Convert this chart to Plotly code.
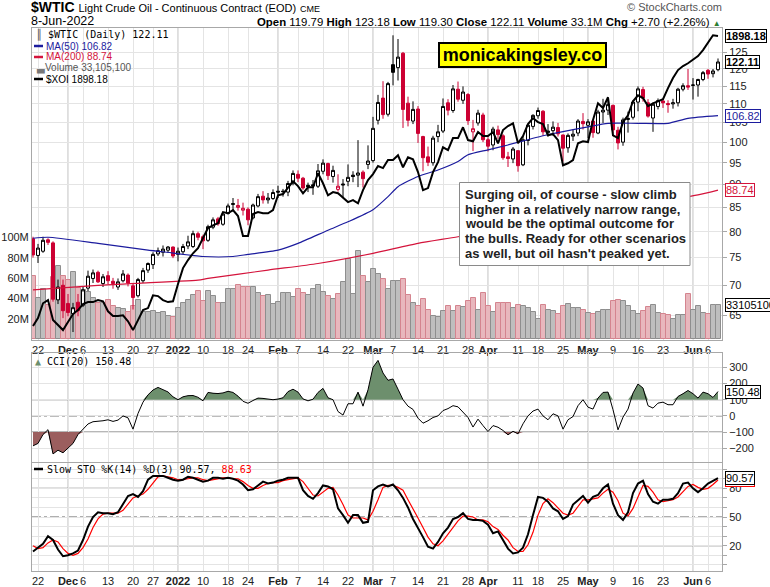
import numpy as np
import pandas as pd
import plotly.graph_objects as go

# ---------------- data ----------------
HOLIDAYS = ["2021-11-25", "2021-12-24", "2022-01-17", "2022-02-21", "2022-04-15", "2022-05-30"]
DATES = [d.strftime("%Y-%m-%d") for d in pd.bdate_range("2021-11-19", "2022-06-08")
         if d.strftime("%Y-%m-%d") not in HOLIDAYS]
PREV_CLOSE = 79.01

OPEN = [78.6, 75.4, 76.2, 78.4, 77.8, 67.5, 70.0, 66.9, 65.2, 67.1,
        66.6, 69.5, 71.2, 72.3, 70.3, 71.7, 70.7, 69.7, 70.8, 71.8,
        69.9, 68.2, 70.8, 72.7, 73.7, 75.7, 76.0, 76.4, 77.0, 75.6,
        76.1, 77.2, 77.1, 79.6, 79.0, 78.3, 80.9, 82.6, 81.5, 83.7,
        85.6, 85.0, 84.4, 84.6, 82.8, 85.3, 87.4, 86.6, 86.9, 88.5,
        88.5, 88.3, 90.3, 92.3, 91.4, 89.8, 89.9, 89.6, 93.0, 94.8,
        91.8, 88.9, 90.1, 90.7, 92.1, 92.1, 92.8, 94.6, 95.5, 105.6,
        111.6, 107.2, 121.3, 120.4, 124.8, 110.2, 105.4, 108.6, 101.4, 96.4,
        95.0, 101.4, 102.8, 110.3, 108.2, 114.1, 111.0, 112.6, 102.6, 104.9,
        107.0, 100.6, 99.3, 103.1, 101.6, 96.4, 95.9, 97.9, 94.5, 100.4,
        104.0, 106.8, 108.0, 102.4, 102.9, 103.7, 101.8, 98.6, 101.5, 102.3,
        105.3, 104.3, 105.4, 102.3, 107.8, 108.3, 109.6, 103.0, 100.0, 105.8,
        106.4, 110.5, 114.0, 110.3, 106.2, 109.3, 110.8, 110.1, 110.0, 110.3,
        114.1, 115.1, 115.2, 115.3, 116.9, 119.6, 118.6, 119.79]
HIGH = [79.0, 77.6, 79.0, 78.7, 78.1, 71.0, 71.0, 68.5, 67.0, 68.5,
        69.8, 72.6, 72.8, 72.6, 72.0, 72.5, 71.3, 71.2, 72.7, 72.1,
        70.3, 71.3, 73.1, 74.1, 76.0, 76.9, 77.3, 77.2, 77.1, 76.9,
        77.6, 79.2, 80.2, 80.0, 79.4, 81.4, 82.9, 83.0, 84.0, 85.8,
        87.0, 86.8, 86.0, 85.0, 85.8, 87.9, 88.5, 88.1, 88.9, 89.7,
        89.0, 90.8, 93.2, 93.2, 91.7, 90.4, 91.0, 94.7, 95.8, 95.0,
        94.3, 92.3, 91.2, 94.6, 93.0, 100.5, 93.2, 99.2, 106.5, 112.5,
        116.4, 116.2, 130.5, 129.3, 125.2, 112.0, 110.7, 109.4, 101.6, 98.9,
        101.6, 104.4, 111.5, 111.3, 115.3, 116.3, 114.9, 113.0, 105.7, 108.4,
        107.6, 101.2, 103.9, 104.2, 102.0, 97.6, 98.8, 98.0, 101.5, 104.6,
        107.2, 109.0, 108.3, 104.6, 105.3, 104.9, 101.9, 102.2, 103.2, 105.9,
        107.5, 105.9, 105.5, 108.4, 111.4, 111.0, 109.8, 103.9, 106.3, 107.9,
        111.0, 114.9, 114.8, 111.3, 110.4, 111.5, 111.4, 111.0, 111.4, 114.5,
        115.8, 120.0, 117.3, 117.1, 119.4, 120.0, 120.0, 123.18]
LOW = [75.0, 74.0, 75.9, 77.4, 67.2, 66.8, 64.5, 64.8, 62.3, 64.8,
       66.3, 69.0, 70.4, 70.4, 69.7, 70.2, 69.4, 69.2, 70.5, 69.8,
       65.9, 67.9, 70.4, 72.2, 72.9, 75.3, 75.2, 75.9, 74.9, 74.3,
       75.6, 76.6, 76.8, 78.3, 76.6, 78.0, 80.5, 81.2, 81.2, 83.5,
       84.4, 84.3, 83.3, 81.3, 82.5, 85.0, 85.8, 85.8, 86.6, 87.0,
       87.3, 87.4, 89.8, 90.5, 88.8, 88.3, 87.7, 89.2, 92.3, 91.0,
       90.4, 88.4, 87.2, 89.6, 90.5, 89.4, 89.3, 93.5, 95.0, 104.5,
       106.0, 106.6, 115.2, 116.6, 103.6, 104.0, 104.6, 99.8, 93.0, 94.2,
       94.3, 100.0, 102.3, 106.9, 107.6, 110.6, 110.0, 104.4, 97.8, 104.2,
       100.0, 97.7, 98.0, 100.8, 95.7, 94.0, 94.9, 92.9, 94.2, 99.2,
       103.2, 106.0, 101.6, 101.4, 101.6, 101.4, 95.3, 97.4, 100.3, 101.5,
       103.2, 101.0, 101.1, 102.0, 104.9, 107.0, 102.2, 98.2, 99.1, 102.4,
       105.8, 108.0, 110.6, 106.3, 102.6, 108.5, 108.9, 107.6, 108.7, 109.3,
       113.5, 113.9, 111.2, 112.0, 116.4, 117.1, 117.5, 119.30]
CLOSE = [75.5, 76.8, 78.3, 77.9, 67.6, 69.7, 65.7, 65.4, 66.2, 65.7,
         69.2, 71.6, 72.2, 70.6, 71.5, 70.8, 70.3, 70.6, 72.0, 70.4,
         67.9, 71.0, 72.6, 73.9, 75.6, 76.3, 76.6, 77.0, 75.3, 76.2,
         77.1, 78.0, 79.6, 78.9, 78.2, 81.0, 82.4, 81.6, 83.6, 85.3,
         85.8, 85.4, 84.8, 82.4, 85.5, 87.3, 86.6, 87.0, 88.2, 88.3,
         88.4, 90.2, 92.5, 91.4, 89.2, 89.5, 89.7, 93.1, 94.9, 92.0,
         93.2, 89.6, 89.9, 91.6, 91.8, 92.6, 91.3, 95.4, 103.5, 110.4,
         107.1, 115.7, 119.0, 123.6, 108.5, 105.6, 108.5, 102.2, 96.2, 95.1,
         101.0, 102.6, 109.3, 108.3, 114.2, 111.3, 113.3, 105.5, 103.4, 107.5,
         100.6, 99.0, 103.3, 101.9, 96.2, 96.0, 98.3, 94.3, 100.6, 104.3,
         106.9, 108.2, 102.6, 102.8, 103.8, 102.1, 98.5, 101.7, 102.0, 105.4,
         104.7, 105.2, 102.4, 107.8, 108.3, 109.8, 103.1, 99.8, 105.7, 106.1,
         110.5, 114.2, 111.6, 106.7, 109.9, 110.9, 110.3, 109.8, 110.3, 114.1,
         115.1, 114.7, 115.3, 116.9, 118.9, 118.5, 119.4, 122.11]
VOLUME_M = [62, 40, 49, 34, 61, 72, 62, 58, 66, 50,
            48, 46, 40, 36, 36, 38, 33, 31, 30, 27,
            33, 38, 27, 27, 28, 26, 27, 23, 22, 31,
            36, 38, 43, 47, 37.6, 47.5, 42.6, 36, 36, 49,
            49.6, 53, 51, 51.5, 51.5, 45, 42.6, 43, 35, 36.7,
            45, 45.5, 41.6, 49, 45.5, 43.5, 49, 53.7, 46, 42.6,
            39.3, 44, 55.7, 78.6, 44, 86.8, 61.6, 55.7, 69, 64,
            59, 49, 57, 57, 59, 43, 36, 33, 39, 29,
            23, 21.5, 28, 33, 28, 33, 32, 37.6, 40, 29,
            45, 33, 26.5, 36, 36, 36, 31, 34, 33, 31,
            27, 20, 34, 29, 28, 24.6, 33, 35, 31, 31,
            29, 26, 25, 27, 29, 29, 37, 38.6, 37, 33,
            28, 25, 28, 32, 34, 26, 25, 24, 19.6, 24,
            23.6, 44, 29, 33, 26, 25, 34, 33.1]
XOI = [1173, 1193, 1230, 1238, 1188, 1175, 1163, 1183, 1203, 1213,
       1228, 1233, 1233, 1238, 1235, 1210, 1198, 1198, 1200, 1185,
       1163, 1188, 1213, 1218, 1250, 1248, 1238, 1233, 1235, 1278,
       1318, 1338, 1355, 1368, 1393, 1418, 1425, 1430, 1458, 1455,
       1463, 1448, 1398, 1398, 1453, 1458, 1455, 1455, 1463, 1500,
       1503, 1518, 1535, 1523, 1505, 1520, 1520, 1555, 1530, 1500,
       1508, 1505, 1495, 1483, 1488, 1480, 1513, 1538, 1553, 1573,
       1568, 1588, 1588, 1600, 1570, 1595, 1590, 1558, 1513, 1518,
       1558, 1583, 1620, 1613, 1643, 1643, 1670, 1638, 1635, 1658,
       1648, 1648, 1658, 1630, 1663, 1673, 1680, 1630, 1648, 1678,
       1693, 1683, 1678, 1650, 1653, 1638, 1575, 1580, 1588, 1630,
       1635, 1633, 1688, 1730, 1718, 1745, 1650, 1643, 1683, 1700,
       1735, 1750, 1743, 1723, 1730, 1735, 1740, 1768, 1793, 1813,
       1823, 1830, 1840, 1848, 1863, 1883, 1900, 1898.18]
CCI = [-185, -170, -115, -85, -235, -212, -228, -200, -170, -115,
       -80, -50, -36, -35, -30, -24, -34, -26, 0, -12,
       -82, 15, 85, 130, 160, 176, 162, 148, 118, 100,
       118, 125, 126, 115, 93, 145, 140, 138, 142, 152,
       145, 122, 90, 78, 95, 110, 108, 103, 100, 104,
       112, 150, 165, 147, 105, 93, 103, 145, 170, 112,
       100, 27, 5, 75, 75, 147, 60, 161, 300, 343,
       265, 220, 228, 165, 100, 60, 40, -14, -45, -30,
       -10, 0, 33, 45, 63, 56, 25, -10, -69, -20,
       -60, -97, -60, -70, -90, -117, -95, -111, -49, 0,
       30, 42, 0, -24, 13, 0, -82, -24, -4, 63,
       100, 54, 42, 110, 145, 147, 38, -86, -8, 42,
       141, 197, 172, 63, 48, 79, 85, 69, 69, 120,
       137, 157, 137, 110, 147, 137, 114, 150.48]
STO_K = [14, 18, 22, 30, 26, 16, 9, 10, 12, 15,
         26, 40, 50, 55, 54, 54, 53, 55, 64, 72,
         74, 71, 77, 89, 93, 93, 93, 91, 89, 88,
         89, 92, 91, 89, 87, 88, 91, 91, 90, 91,
         90, 88, 84, 78, 79, 83, 87, 85, 86, 88,
         89, 91, 91, 91, 78, 72, 69, 75, 83, 82,
         79, 59, 52, 44, 52, 52, 44, 45, 78, 82,
         84, 82, 84, 78, 70, 60, 48, 39, 29, 19,
         17, 24, 33, 39, 48, 50, 54, 48, 47, 47,
         46, 42, 33, 35, 26, 17, 12, 13, 18, 32,
         52, 71, 70, 66, 59, 56, 48, 51, 63, 68,
         72, 65, 71, 73, 80, 84, 64, 52, 47, 55,
         75, 85, 88, 74, 66, 64, 68, 68, 69, 75,
         85, 86, 80, 76, 80, 85, 88, 90.57]
STO_D = [20, 17, 18, 23, 26, 24, 17, 12, 10, 12,
         18, 27, 39, 48, 53, 54, 54, 54, 57, 64,
         70, 72, 74, 79, 86, 92, 93, 92, 91, 89,
         89, 90, 91, 91, 89, 88, 89, 90, 91, 91,
         90, 90, 87, 83, 80, 80, 83, 85, 86, 86,
         88, 89, 90, 91, 87, 80, 73, 72, 76, 80,
         81, 73, 63, 52, 49, 49, 49, 47, 56, 68,
         81, 83, 83, 81, 78, 68, 59, 49, 39, 29,
         22, 20, 25, 32, 40, 46, 51, 51, 50, 47,
         47, 45, 40, 37, 31, 26, 18, 14, 14, 21,
         34, 52, 64, 69, 65, 60, 54, 52, 54, 61,
         68, 68, 69, 70, 75, 79, 76, 67, 54, 51,
         59, 72, 83, 82, 76, 68, 66, 67, 68, 71,
         76, 82, 84, 81, 79, 80, 84, 88.63]

MA50_DATES = ["2021-11-19", "2021-11-24", "2021-12-09", "2021-12-23", "2021-12-29", "2022-01-10",
              "2022-01-19", "2022-01-24", "2022-02-01", "2022-02-07", "2022-02-15", "2022-02-22",
              "2022-03-01", "2022-03-04", "2022-03-08", "2022-03-14", "2022-03-18", "2022-03-24",
              "2022-03-28", "2022-04-01", "2022-04-07", "2022-04-19", "2022-04-22", "2022-05-02",
              "2022-05-06", "2022-05-16", "2022-05-24", "2022-05-31", "2022-06-08"]
MA50 = [78.7, 78.9, 77.7, 76.4, 76.1, 75.2, 75.2, 75.6, 76.4, 77.7, 80.3, 82.0, 84.5, 87.3,
        89.5, 91.8, 93.3, 95.3, 96.9, 98.1, 99.3, 101.6, 102.4, 103.9, 104.8, 104.8, 104.8,
        106.1, 106.82]
MA200_DATES = ["2021-11-19", "2021-12-09", "2022-01-07", "2022-01-11", "2022-01-28", "2022-02-11",
               "2022-03-01", "2022-03-14", "2022-03-24", "2022-04-27", "2022-06-02", "2022-06-08"]
MA200 = [69.2, 70.0, 70.9, 71.2, 72.7, 73.9, 75.8, 77.7, 79.0, 83.2, 87.7, 88.74]

TICK_DATES = ["2021-11-22", "2021-12-01", "2021-12-06", "2021-12-13", "2021-12-20", "2021-12-27",
              "2022-01-03", "2022-01-10", "2022-01-18", "2022-01-24", "2022-02-01", "2022-02-07",
              "2022-02-14", "2022-02-22", "2022-03-01", "2022-03-07", "2022-03-14", "2022-03-21",
              "2022-03-28", "2022-04-01", "2022-04-11", "2022-04-18", "2022-04-25", "2022-05-02",
              "2022-05-09", "2022-05-16", "2022-05-23", "2022-06-01", "2022-06-06"]
TICK_TEXT = ["22", "<b>Dec</b>", "6", "13", "20", "27", "<b>2022</b>", "10", "18", "24", "<b>Feb</b>",
             "7", "14", "22", "<b>Mar</b>", "7", "14", "21", "28", "<b>Apr</b>", "11", "18", "25",
             "<b>May</b>", "9", "16", "23", "<b>Jun</b>", "6"]
MONTH_STARTS = ["2021-12-01", "2022-01-03", "2022-02-01", "2022-03-01", "2022-04-01", "2022-05-02",
                "2022-06-01"]

# ---------------- helpers ----------------
pos = {d: i for i, d in enumerate(DATES)}
X = list(range(len(DATES)))
tickvals = [pos[d] for d in TICK_DATES]

W, H = 770, 587
ML, MR, MT, MB = 32, 48, 28, 16


def px(x):
    return (x - ML) / (W - ML - MR)


def py(y):
    return (H - MB - y) / (H - MT - MB)


FONT = "Liberation Sans, Arial, sans-serif"
MONO = "DejaVu Sans Mono, monospace"
GRID = "#e4e4e4"
MGRID = "#bdbdbd"
FRAME = "#a8a8a8"
RED = "#cc0033"
BLUE = "#1c1c9e"
MARED = "#d4143c"

prev = [PREV_CLOSE] + CLOSE[:-1]
up = [c >= p for c, p in zip(CLOSE, prev)]

fig = go.Figure()

# volume (base axis so it sits behind the price)
fig.add_trace(go.Bar(
    x=X, y=[v * 1e6 for v in VOLUME_M], xaxis="x", yaxis="y",
    marker=dict(color=["#bebebe" if u else "#e8b7bd" for u in up],
                line=dict(color=["#8e8e8e" if u else "#d4848f" for u in up], width=1)),
    hoverinfo="skip"))

# candles: black set and red set
for flag, col in [(True, "black"), (False, RED)]:
    idx = [i for i in X if up[i] == flag]
    fig.add_trace(go.Candlestick(
        x=idx, open=[OPEN[i] for i in idx], high=[HIGH[i] for i in idx],
        low=[LOW[i] for i in idx], close=[CLOSE[i] for i in idx],
        xaxis="x", yaxis="y2", whiskerwidth=0,
        increasing=dict(line=dict(color=col, width=1), fillcolor="white"),
        decreasing=dict(line=dict(color=col, width=1), fillcolor=col),
        hoverinfo="skip"))

fig.add_trace(go.Scatter(x=[pos[d] for d in MA50_DATES], y=MA50, mode="lines", xaxis="x", yaxis="y2",
                         line=dict(color=BLUE, width=1.2, shape="spline", smoothing=0.6)))
fig.add_trace(go.Scatter(x=[pos[d] for d in MA200_DATES], y=MA200, mode="lines", xaxis="x", yaxis="y2",
                         line=dict(color=MARED, width=1.2, shape="spline", smoothing=0.6)))
fig.add_trace(go.Scatter(x=X, y=XOI, mode="lines", xaxis="x", yaxis="y3",
                         line=dict(color="black", width=2)))

# CCI
fig.add_trace(go.Scatter(x=X, y=[100] * len(X), mode="lines", line=dict(width=0),
                         xaxis="x2", yaxis="y4"))
fig.add_trace(go.Scatter(x=X, y=[max(v, 100) for v in CCI], mode="lines", line=dict(width=0),
                         fill="tonexty", fillcolor="#6d8f6d", xaxis="x2", yaxis="y4"))
fig.add_trace(go.Scatter(x=X, y=[-100] * len(X), mode="lines", line=dict(width=0),
                         xaxis="x2", yaxis="y4"))
fig.add_trace(go.Scatter(x=X, y=[min(v, -100) for v in CCI], mode="lines", line=dict(width=0),
                         fill="tonexty", fillcolor="#9b5e5e", xaxis="x2", yaxis="y4"))
fig.add_trace(go.Scatter(x=X, y=CCI, mode="lines", line=dict(color="black", width=1),
                         xaxis="x2", yaxis="y4"))

# Slow stochastic
fig.add_trace(go.Scatter(x=X, y=STO_D, mode="lines", line=dict(color="#ff0000", width=1.2),
                         xaxis="x3", yaxis="y5"))
fig.add_trace(go.Scatter(x=X, y=STO_K, mode="lines", line=dict(color="black", width=2),
                         xaxis="x3", yaxis="y5"))

# ---------------- axes ----------------
xcommon = dict(range=[-0.2, 137.8], tickmode="array", tickvals=tickvals, ticktext=TICK_TEXT,
               tickangle=0, automargin=False,
               showgrid=True, gridcolor=GRID, gridwidth=1, showline=True, mirror=True,
               linecolor=FRAME, ticks="", zeroline=False,
               tickfont=dict(family=FONT, size=11, color="#222"))
ycommon = dict(automargin=False, zeroline=False)
fig.update_layout(
    xaxis=dict(**xcommon, anchor="y", domain=[0, 1], rangeslider=dict(visible=False)),
    xaxis2=dict(**xcommon, anchor="y4", domain=[0, 1], matches="x", showticklabels=False),
    xaxis3=dict(**xcommon, anchor="y5", domain=[0, 1], matches="x"),
    yaxis=dict(**ycommon, domain=[0.4263, 1], range=[-0.4e6, 306e6], side="left",
               tickvals=[20e6, 40e6, 60e6, 80e6, 100e6], ticktext=["20M", "40M", "60M", "80M", "100M"],
               showgrid=False, showline=True, mirror=True, linecolor=FRAME,
               tickfont=dict(family=FONT, size=11, color="#222"), ticks=""),
    yaxis2=dict(**ycommon, overlaying="y", side="right", type="log",
                range=[np.log10(61.15), np.log10(132.9)],
                tickvals=list(range(65, 130, 5)), showgrid=True, gridcolor=GRID,
                showline=False, ticks="outside", ticklen=4, tickcolor=FRAME,
                tickfont=dict(family=FONT, size=11, color="#222")),
    yaxis3=dict(**ycommon, overlaying="y", range=[1139.4, 1918.2], visible=False),
    yaxis4=dict(**ycommon, domain=[0.2013, 0.4009], anchor="x2", side="right", range=[-283, 386.7],
                tickvals=[-200, -100, 0, 100, 200, 300], showgrid=True, gridcolor=GRID,
                showline=True, mirror=True, linecolor=FRAME,
                ticks="outside", ticklen=4, tickcolor=FRAME,
                tickfont=dict(family=FONT, size=11, color="#222")),
    yaxis5=dict(**ycommon, domain=[0, 0.1995], anchor="x3", side="right", range=[-6.4, 106.8],
                tickvals=list(range(0, 110, 10)),
                ticktext=["" if v not in (20, 50, 80) else str(v) for v in range(0, 110, 10)],
                showgrid=True, gridcolor=GRID, showline=True, mirror=True,
                linecolor=FRAME, ticks="outside", ticklen=4, tickcolor=FRAME,
                tickfont=dict(family=FONT, size=11, color="#222")),
)

# ---------------- shapes ----------------
shapes = []
for d in MONTH_STARTS:
    for xr, yr in [("x", "y domain"), ("x2", "y4 domain"), ("x3", "y5 domain")]:
        shapes.append(dict(type="line", xref=xr, yref=yr, x0=pos[d], x1=pos[d], y0=0, y1=1,
                           line=dict(color=MGRID, width=1), layer="below"))
for yv, dash in [(100, "solid"), (0, "dashdot"), (-100, "solid")]:
    shapes.append(dict(type="line", xref="paper", yref="y4", x0=0, x1=1, y0=yv, y1=yv,
                       line=dict(color="#555", width=1, dash=dash), layer="below"))
for yv, dash in [(80, "solid"), (50, "dashdot"), (20, "solid")]:
    shapes.append(dict(type="line", xref="paper", yref="y5", x0=0, x1=1, y0=yv, y1=yv,
                       line=dict(color="#555", width=1, dash=dash), layer="below"))
# legend swatches
for yy, col in [(46, BLUE), (57, MARED), (79, "black"), (469, "black")]:
    shapes.append(dict(type="line", xref="paper", yref="paper", x0=px(34), x1=px(43),
                       y0=py(yy), y1=py(yy), line=dict(color=col, width=2.5)))
# comment box
shapes.append(dict(type="rect", xref="paper", yref="paper", x0=px(459.5), x1=px(690),
                   y0=py(182.5), y1=py(265.5), fillcolor="white", line=dict(color="#8a8a8a", width=1),
                   layer="above"))
fig.update_layout(shapes=shapes)

# ---------------- annotations ----------------
ann = []


def text(x, y, s, size=11, family=FONT, color="black", anchor="left"):
    ann.append(dict(xref="paper", yref="paper", x=px(x), y=py(y), text=s, showarrow=False,
                    xanchor=anchor, yanchor="middle", font=dict(family=family, size=size, color=color)))


text(29, 7, "<b>$WTIC</b> <span style='font-size:11px'>Light Crude Oil - Continuous Contract (EOD)</span>"
     " <span style='font-size:9px'>CME</span>", size=14)
text(29, 21, "8-Jun-2022", size=12.5)
text(724, 7, "\u00a9 StockCharts.com", size=11, color="#555", anchor="right")
text(723, 22, "<b>Open</b> 119.79 <b>High</b> 123.18 <b>Low</b> 119.30 <b>Close</b> 122.11 "
     "<b>Volume</b> 33.1M <b>Chg</b> +2.70 (+2.26%) <span style='color:#2e7d32;font-size:8px'>\u25b2</span>",
     size=11.4, anchor="right")

text(34, 35, "<span style='color:#555'>\u2551</span> $WTIC (Daily) 122.11", size=10, family=MONO)
text(44, 46, "MA(50) 106.82", size=10, color=BLUE)
text(44, 57, "MA(200) 88.74", size=10, color=MARED)
text(34, 68, "<span style='color:#777'>\u2583</span>Volume 33,105,100", size=10, color="#555")
text(44, 79, "$XOI 1898.18", size=10)
text(33, 361, "<span style='color:#6d8f6d'>\u25b2</span> CCI(20) 150.48", size=10, family=MONO)
text(45, 469, "Slow STO %K(14) %D(3) 90.57, <span style='color:#ff0000'>88.63</span>", size=10,
     family=MONO)

for i, line in enumerate(["Surging oil, of course - slow climb",
                          "higher in a relatively narrow range,",
                          "would be the optimal outcome for",
                          "the bulls. Ready for other scenarios",
                          "as well, but oil hasn't peaked yet."]):
    text(462.5, 194.5 + i * 14.75, "<b>%s</b>" % line, size=13, color="#222")

ann.append(dict(xref="paper", yref="paper", x=px(522), y=py(54.7), text="<b>monicakingsley.co</b>",
                showarrow=False, xanchor="center", yanchor="middle", bgcolor="#ffff00",
                bordercolor="black", borderwidth=2, borderpad=1, width=163, height=20,
                font=dict(family=FONT, size=18, color="black")))


def tag(yref, yv, s, col="black", bold=False, tcol=None):
    ann.append(dict(xref="paper", yref=yref, x=px(725), y=yv, text="<b>%s</b>" % s if bold else s,
                    showarrow=False, xanchor="left", yanchor="middle", bgcolor="white",
                    bordercolor=col, borderwidth=1, borderpad=0,
                    font=dict(family=FONT, size=11, color=tcol or col)))


tag("y2", np.log10(106.82), "106.82", BLUE)
tag("y2", np.log10(88.74), "88.74", MARED)
tag("y", 33.1051e6, "33105100")
tag("y2", np.log10(122.11), "122.11", bold=True)
tag("y3", 1898.18, "1898.18", bold=True)
tag("y4", 150.48, "150.48")
tag("y5", 88.63, "88.63", "#ff0000", tcol="#ff0000")
tag("y5", 90.57, "90.57")

fig.update_layout(
    annotations=ann, width=W, height=H, margin=dict(l=ML, r=MR, t=MT, b=MB, autoexpand=False),
    paper_bgcolor="white", plot_bgcolor="white", showlegend=False, bargap=0, boxgap=0.15,
    font=dict(family=FONT, size=11, color="#222"))

fig.write_html("out.html", config={"displayModeBar": False},
               post_script="document.body.style.margin='0';document.body.style.overflow='hidden';")
